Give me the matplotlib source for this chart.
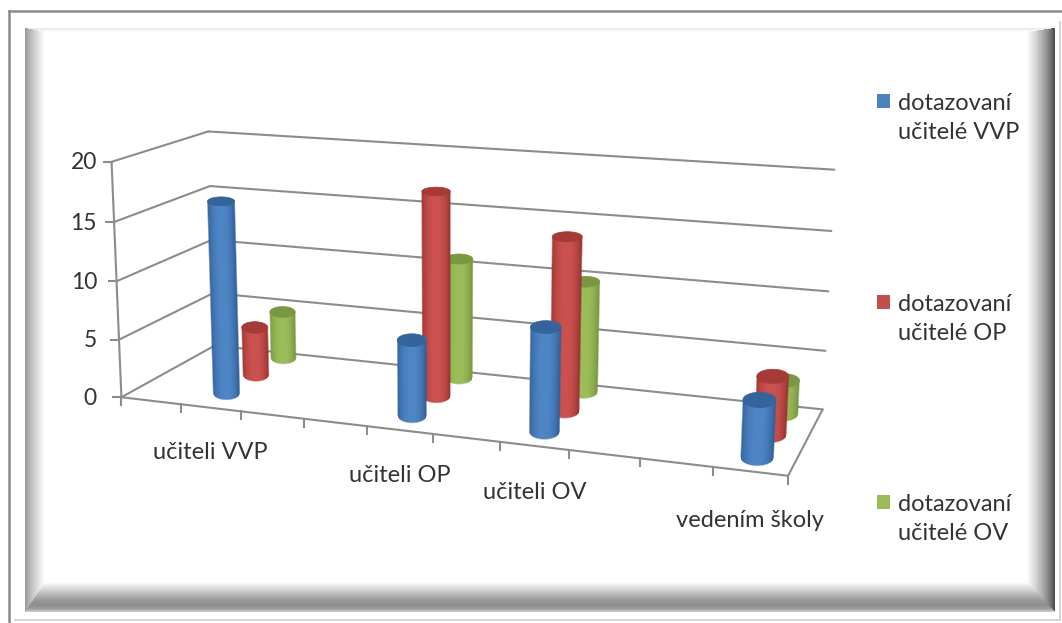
import numpy as np
import matplotlib
matplotlib.use("Agg")
import matplotlib.pyplot as plt
from matplotlib.patches import Polygon, Rectangle

categories = ['', 'učiteli VVP', '', '', 'učiteli OP', '', 'učiteli OV', '', '', 'vedením školy']
series_names = ['dotazovaní\nučitelé VVP', 'dotazovaní\nučitelé OP', 'dotazovaní\nučitelé OV']
bar_slots = [1, 4, 6, 9]
values_vvp = [16.5, 6.35, 8.55, 4.55]
values_op = [4.3, 17.5, 14.6, 4.8]
values_ov = [4.3, 10.6, 9.6, 2.85]
y_ticks = [0, 5, 10, 15, 20]

W, H = 1062, 623
plt.rcParams['font.family'] = ['Lato', 'DejaVu Sans']
fig = plt.figure(figsize=(W / 100, H / 100), dpi=100)
ax = fig.add_axes([0, 0, 1, 1])
ax.set_xlim(0, W); ax.set_ylim(H, 0); ax.axis('off')

# --- frame bevel
yy, xx = np.mgrid[0:H, 0:W] + 0.5
L, T, R, B = 25, 28, 1055, 612
img = np.ones((H, W))
inside = (xx >= L) & (xx <= R) & (yy >= T) & (yy <= B)
dl, dr, dt, db = xx - L, R - xx, yy - T, B - yy
wl, wr, wt, wb = 20., 28., 4., 30.
sl = 0.58 + 0.42 * np.clip(dl / wl, 0, 1) ** 0.8
sr = 0.25 + 0.75 * np.clip(dr / wr, 0, 1) ** 0.7
st = 0.90 + 0.10 * np.clip(dt / wt, 0, 1)
sb = np.interp(db, [0, 3, 7, 12, wb], [0.82, 0.62, 0.55, 0.60, 1.0])
stack = np.stack([dl / wl, dr / wr, dt / wt, db / wb])
which = np.argmin(stack, axis=0)
shade = np.choose(which, [sl, sr, st, sb])
img[inside] = shade[inside]
ax.imshow(img, cmap='gray', vmin=0, vmax=1, extent=(0, W, H, 0), aspect='auto', zorder=0, interpolation='bilinear')
ax.plot([9, 9], [11, H], color='#8a8a8a', lw=1.8, zorder=1)
ax.plot([9, W], [11, 11], color='#8a8a8a', lw=1.8, zorder=1)
ax.plot([1060, 1060], [22, 620], color='#d4d4d4', lw=1.4, zorder=1)
ax.plot([15, 1060], [620, 620], color='#d4d4d4', lw=1.4, zorder=1)

# --- perspective scale: world (x slots, depth, value) -> screen, fitted on axis anchors
N = len(categories); YMAX = y_ticks[-1]
anchors = [((0, 0, 0), (123, 396)), ((0, 0, YMAX), (110, 162)),
           ((0, 1, 0), (213, 347)), ((0, 1, YMAX), (210, 131)),
           ((N, 1, 0), (823, 408)), ((N, 1, YMAX), (834, 170)),
           ((N, 0, 0), (788, 477))]
A = []; b = []
for (X, Z, Y), (u, v) in anchors:
    A.append([X, Z, Y, 1, 0, 0, 0, 0, -u * X, -u * Z, -u * Y]); b.append(u)
    A.append([0, 0, 0, 0, X, Z, Y, 1, -v * X, -v * Z, -v * Y]); b.append(v)
p = np.linalg.lstsq(np.array(A, float), np.array(b, float), rcond=None)[0]
P = np.append(p, 1).reshape(3, 4)

def proj(X, Z, Y):
    X, Z, Y = np.broadcast_arrays(np.asarray(X, float), np.asarray(Z, float), np.asarray(Y, float))
    w = P[2, 0] * X + P[2, 1] * Z + P[2, 2] * Y + P[2, 3]
    return (P[0, 0] * X + P[0, 1] * Z + P[0, 2] * Y + P[0, 3]) / w, (P[1, 0] * X + P[1, 1] * Z + P[1, 2] * Y + P[1, 3]) / w

GRID = '#8c8c8c'
def seg(a, c, z=2, lw=1.5):
    u, v = proj([a[0], c[0]], [a[1], c[1]], [a[2], c[2]])
    ax.plot(u, v, color=GRID, lw=lw, zorder=z, solid_capstyle='round')

for t in y_ticks:
    seg((0, 0, t), (0, 1, t)); seg((0, 1, t), (N, 1, t))
    u, v = proj(0, 0, t)
    ax.plot([u - 8, u], [v, v], color=GRID, lw=1.5, zorder=2)
    ax.text(97, v + 1, str(t), ha='right', va='center', fontsize=16.5, color='#333333', zorder=5)
seg((0, 0, 0), (0, 0, YMAX)); seg((0, 0, 0), (N, 0, 0)); seg((N, 0, 0), (N, 1, 0))
for i in range(N + 1):
    u, v = proj(i, 0, 0)
    ax.plot([u, u], [v, v + 8], color=GRID, lw=1.5, zorder=2)
for i, c in enumerate(categories):
    if c:
        u, v = proj(i + 0.5, 0, 0)
        ax.text(u, v + 44 + 0.07 * (v - 404), c, ha='center', va='center', fontsize=17, color='#333333', zorder=5)

# --- cylinders
styles = [((79, 134, 198), (47, 92, 148), (52, 100, 155)),
          ((204, 82, 80), (150, 50, 48), (165, 58, 55)),
          ((156, 190, 90), (118, 146, 62), (122, 152, 66))]
RX, RZ, SOFT = 0.225, 0.12, 1.5
def radii(cx, cz, y):
    ul, _ = proj(cx - RX, cz, y); ur, _ = proj(cx + RX, cz, y)
    _, vf = proj(cx, cz - RZ, y); _, vb = proj(cx, cz + RZ, y)
    return abs(ur - ul) / 2, abs(vf - vb) / 2

def cylinder(slot, s, val, z):
    cx = slot + 0.5 - 0.125 + 0.012 * slot
    cz = (s + 0.5) / 3 + 0.08 - 0.006 * slot
    mid, edge, topc = [np.array(c) / 255 for c in styles[s]]
    u0, v0 = proj(cx, cz, 0); rx0, ry0 = radii(cx, cz, 0)
    u1, v1 = proj(cx, cz, val); rx1, ry1 = radii(cx, cz, val)
    x0 = int(min(u0 - rx0, u1 - rx1)) - 3; x1 = int(max(u0 + rx0, u1 + rx1)) + 4
    y0 = int(v1) - 1; y1 = int(v0 + ry0) + 4
    gy, gx = np.mgrid[y0:y1, x0:x1] + 0.5
    f = np.clip((gy - v1) / (v0 - v1), 0, 1)
    c = u1 + (u0 - u1) * f; r = rx1 + (rx0 - rx1) * f
    pos = (gx - c) / r
    weight = np.where(pos < 0, 0.8, 1.0)
    tone = (weight * np.clip(np.abs(pos), 0, 1) ** 2.2)[..., None]
    rgb = mid + (edge - mid) * tone
    alpha = np.clip((r - np.abs(gx - c)) / SOFT + 0.5, 0, 1)
    bottom = v0 + ry0 * np.sqrt(np.clip(1 - pos ** 2, 0, 1))
    alpha = alpha * np.clip((bottom - gy) / SOFT + 0.5, 0, 1) * (gy >= v1)
    ax.imshow(np.dstack([rgb, alpha]), extent=(x0, x1, y1, y0), aspect='auto', interpolation='nearest', zorder=z)
    a = np.linspace(0, 2 * np.pi, 60)
    ax.add_patch(Polygon(np.c_[u1 + rx1 * np.cos(a), v1 + ry1 * np.sin(a)], closed=True, fc=topc, ec=topc, lw=0.5, zorder=z + 0.1))

for j, slot in enumerate(bar_slots):
    for s, vals in reversed(list(enumerate([values_vvp, values_op, values_ov]))):
        cylinder(slot, s, vals[j], 3 + (2 - s) * 0.3 + j)

# --- legend
leg_colors = ['#4F81BD', '#C0504D', '#9BBB59']
for name, col, y in zip(series_names, leg_colors, [101, 302, 502]):
    ax.add_patch(Rectangle((877, y - 7), 13, 14, fc=col, ec='none', zorder=5))
    ax.text(898, y + 17, name, ha='left', va='center', fontsize=17, color='#333333', linespacing=1.5, zorder=5)

ax.set_xlim(0, W); ax.set_ylim(H, 0)
fig.savefig('out.png', dpi=100)
